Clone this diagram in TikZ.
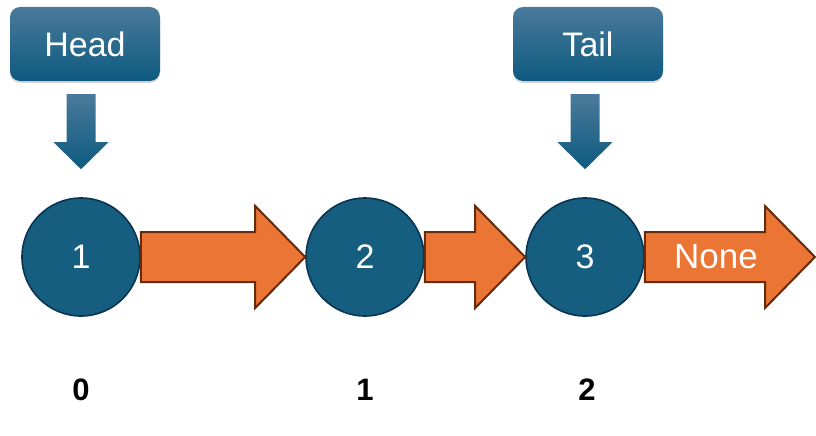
\documentclass[tikz,border=0pt]{standalone}
\usepackage{fontspec}
\setmainfont{Liberation Sans}
\usetikzlibrary{calc,shadows}
\definecolor{boxtop}{HTML}{4A7A9B}
\definecolor{boxbot}{HTML}{0D5A80}
\definecolor{nodeblue}{HTML}{165E80}
\definecolor{nodeedge}{HTML}{0A3550}
\definecolor{orfill}{HTML}{EB7535}
\definecolor{oredge}{HTML}{642B0C}
\newcommand{\fatarrow}[2]{%
  \draw[orarrow] let \p1=(#1), \p2=(#2) in
    (\x1,\y1+25pt) -- (\x2-50pt,\y1+25pt) -- (\x2-50pt,\y1+51pt) -- (\x2,\y1)
    -- (\x2-50pt,\y1-51pt) -- (\x2-50pt,\y1-25pt) -- (\x1,\y1-25pt) -- cycle;}
\newcommand{\ptrarrow}[1]{%
  \path[downarr] let \p1=(#1) in
    (\x1-14.5pt,\y1+103pt) -- (\x1+14.5pt,\y1+103pt) -- (\x1+14.5pt,\y1+55pt)
    -- (\x1+27.5pt,\y1+55pt) -- (\x1,\y1+28pt) -- (\x1-27.5pt,\y1+55pt)
    -- (\x1-14.5pt,\y1+55pt) -- cycle;}
\begin{document}
\begin{tikzpicture}[x=1pt,y=-1pt,
  ptr/.style={rounded corners=10pt, minimum width=150pt, minimum height=74pt,
    top color=boxtop, bottom color=boxbot, text=white,
    font=\fontsize{34}{38}\selectfont,
    drop shadow={opacity=0.3,shadow xshift=0pt,shadow yshift=-2pt}},
  circ/.style={circle, minimum size=118pt, fill=nodeblue, draw=nodeedge,
    line width=1.6pt, text=white, font=\fontsize{34}{38}\selectfont, inner sep=0pt},
  orarrow/.style={fill=orfill, draw=oredge, line width=2pt, line join=miter},
  downarr/.style={top color=boxtop, bottom color=boxbot},
  idx/.style={font=\bfseries\fontsize{31}{34}\selectfont}
]
\useasboundingbox (0,0) rectangle (816,436);
\node[ptr] (head) at (85,44) {Head};
\node[ptr] (tail) at (588,44) {Tail};
\node[circ] (n1) at (81,257) {1};
\node[circ] (n2) at (365,257) {2};
\node[circ] (n3) at (585,257) {3};
\coordinate (nend) at (815,257);
\ptrarrow{n1.north}
\ptrarrow{n3.north}
\fatarrow{n1.east}{n2.west}
\fatarrow{n2.east}{n3.west}
\fatarrow{n3.east}{nend}
\node[text=white, font=\fontsize{35}{38}\selectfont] (none) at (716,257) {None};
\node[idx] (i0) at (81,390) {0};
\node[idx] (i1) at (365,390) {1};
\node[idx] (i2) at (587,390) {2};
\end{tikzpicture}
\end{document}
